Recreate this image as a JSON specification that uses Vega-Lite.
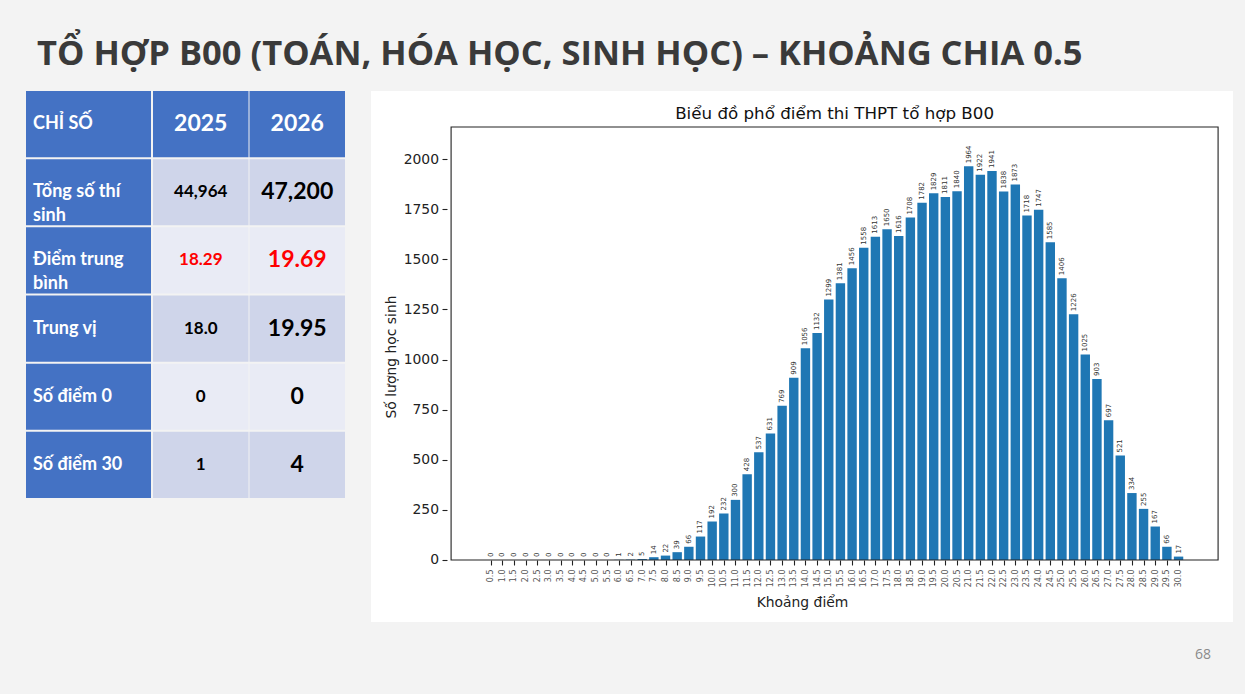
{
  "$schema": "https://vega.github.io/schema/vega-lite/v6.json",
  "background": "#f3f3f3",
  "padding": {"left": 26, "top": 37, "right": 12, "bottom": 33},
  "title": {
    "text": "TỔ HỢP B00 (TOÁN, HÓA HỌC, SINH HỌC) – KHOẢNG CHIA 0.5",
    "anchor": "start",
    "dx": 11,
    "font": "Open Sans",
    "fontSize": 34.5,
    "fontWeight": "bold",
    "color": "#3a3a3a",
    "offset": 18.5
  },
  "config": {"view": {"stroke": null}, "font": "DejaVu Sans", "axis": {"labelOverlap": false}},
  "datasets": {
    "table": [
      {"row": "CHỈ SỐ", "col": "CHỈ SỐ", "text": "CHỈ SỐ"},
      {"row": "CHỈ SỐ", "col": "2025", "text": "2025"},
      {"row": "CHỈ SỐ", "col": "2026", "text": "2026"},
      {"row": "Tổng số thí sinh", "col": "CHỈ SỐ", "text": "Tổng số thí\nsinh"},
      {"row": "Tổng số thí sinh", "col": "2025", "text": "44,964"},
      {"row": "Tổng số thí sinh", "col": "2026", "text": "47,200"},
      {"row": "Điểm trung bình", "col": "CHỈ SỐ", "text": "Điểm trung\nbình"},
      {"row": "Điểm trung bình", "col": "2025", "text": "18.29"},
      {"row": "Điểm trung bình", "col": "2026", "text": "19.69"},
      {"row": "Trung vị", "col": "CHỈ SỐ", "text": "Trung vị"},
      {"row": "Trung vị", "col": "2025", "text": "18.0"},
      {"row": "Trung vị", "col": "2026", "text": "19.95"},
      {"row": "Số điểm 0", "col": "CHỈ SỐ", "text": "Số điểm 0"},
      {"row": "Số điểm 0", "col": "2025", "text": "0"},
      {"row": "Số điểm 0", "col": "2026", "text": "0"},
      {"row": "Số điểm 30", "col": "CHỈ SỐ", "text": "Số điểm 30"},
      {"row": "Số điểm 30", "col": "2025", "text": "1"},
      {"row": "Số điểm 30", "col": "2026", "text": "4"}
    ],
    "scores": [
      {"score": 0.5, "count": 0}, {"score": 1.0, "count": 0}, {"score": 1.5, "count": 0},
      {"score": 2.0, "count": 0}, {"score": 2.5, "count": 0}, {"score": 3.0, "count": 0},
      {"score": 3.5, "count": 0}, {"score": 4.0, "count": 0}, {"score": 4.5, "count": 0},
      {"score": 5.0, "count": 0}, {"score": 5.5, "count": 0}, {"score": 6.0, "count": 1},
      {"score": 6.5, "count": 2}, {"score": 7.0, "count": 5}, {"score": 7.5, "count": 14},
      {"score": 8.0, "count": 22}, {"score": 8.5, "count": 39}, {"score": 9.0, "count": 66},
      {"score": 9.5, "count": 117}, {"score": 10.0, "count": 192}, {"score": 10.5, "count": 232},
      {"score": 11.0, "count": 300}, {"score": 11.5, "count": 428}, {"score": 12.0, "count": 537},
      {"score": 12.5, "count": 631}, {"score": 13.0, "count": 769}, {"score": 13.5, "count": 909},
      {"score": 14.0, "count": 1056}, {"score": 14.5, "count": 1132}, {"score": 15.0, "count": 1299},
      {"score": 15.5, "count": 1381}, {"score": 16.0, "count": 1456}, {"score": 16.5, "count": 1558},
      {"score": 17.0, "count": 1613}, {"score": 17.5, "count": 1650}, {"score": 18.0, "count": 1616},
      {"score": 18.5, "count": 1708}, {"score": 19.0, "count": 1782}, {"score": 19.5, "count": 1829},
      {"score": 20.0, "count": 1811}, {"score": 20.5, "count": 1840}, {"score": 21.0, "count": 1964},
      {"score": 21.5, "count": 1922}, {"score": 22.0, "count": 1941}, {"score": 22.5, "count": 1838},
      {"score": 23.0, "count": 1873}, {"score": 23.5, "count": 1718}, {"score": 24.0, "count": 1747},
      {"score": 24.5, "count": 1585}, {"score": 25.0, "count": 1406}, {"score": 25.5, "count": 1226},
      {"score": 26.0, "count": 1025}, {"score": 26.5, "count": 903}, {"score": 27.0, "count": 697},
      {"score": 27.5, "count": 521}, {"score": 28.0, "count": 334}, {"score": 28.5, "count": 255},
      {"score": 29.0, "count": 167}, {"score": 29.5, "count": 66}, {"score": 30.0, "count": 17}
    ]
  },
  "spacing": 26,
  "hconcat": [
    {
      "spacing": 2,
      "hconcat": [
        {
          "width": 125,
          "height": 407,
          "data": {"name": "table"},
          "transform": [{"filter": "datum.col == 'CHỈ SỐ'"}],
          "encoding": {
            "y": {"field": "row", "type": "nominal", "sort": null, "axis": null, "scale": {"paddingInner": 0.03, "paddingOuter": 0}},
            "x": {"field": "col", "type": "nominal", "axis": null, "scale": {"paddingInner": 0, "paddingOuter": 0}}
          },
          "layer": [
            {"mark": {"type": "rect", "fill": "#4472c4"}},
            {
              "mark": {"type": "text", "align": "left", "baseline": "middle", "dx": 7, "font": "Lato", "fontWeight": "bold", "fontSize": 18, "color": "white", "lineBreak": "\n", "lineHeight": 24},
              "encoding": {
                "x": {"field": "col", "type": "nominal", "bandPosition": 0, "axis": null},
                "text": {"field": "text"}
              }
            }
          ]
        },
        {
          "width": 192,
          "height": 407,
          "data": {"name": "table"},
          "transform": [{"filter": "datum.col != 'CHỈ SỐ'"}],
          "encoding": {
            "y": {"field": "row", "type": "nominal", "sort": null, "axis": null, "scale": {"paddingInner": 0.03, "paddingOuter": 0}},
            "x": {"field": "col", "type": "nominal", "sort": null, "axis": null, "scale": {"paddingInner": 0.01, "paddingOuter": 0}}
          },
          "layer": [
            {
              "mark": {"type": "rect"},
              "encoding": {
                "fill": {
                  "condition": [
                    {"test": "datum.row == 'CHỈ SỐ'", "value": "#4472c4"},
                    {"test": "datum.row == 'Điểm trung bình' || datum.row == 'Số điểm 0'", "value": "#e9ebf5"}
                  ],
                  "value": "#cfd5ea"
                }
              }
            },
            {
              "mark": {"type": "text", "align": "center", "baseline": "middle", "font": "Lato", "fontWeight": "bold"},
              "encoding": {
                "text": {"field": "text"},
                "color": {
                  "condition": [
                    {"test": "datum.row == 'CHỈ SỐ'", "value": "white"},
                    {"test": "datum.row == 'Điểm trung bình'", "value": "#ff0000"}
                  ],
                  "value": "black"
                },
                "size": {
                  "condition": {"test": "datum.col == '2026' || datum.row == 'CHỈ SỐ'", "value": 23},
                  "value": 17
                }
              }
            }
          ]
        }
      ]
    },
    {
      "width": 862,
      "height": 531,
      "view": {"fill": "white", "stroke": null},
      "layer": [
        {
          "data": {"name": "scores"},
          "mark": {"type": "bar", "width": 9.4, "color": "#1f77b4"},
          "encoding": {
            "x": {
              "field": "score", "type": "quantitative",
              "scale": {"domain": [-4.415, 32.12], "nice": false, "zero": false},
              "axis": {
                "values": [0.5, 1, 1.5, 2, 2.5, 3, 3.5, 4, 4.5, 5, 5.5, 6, 6.5, 7, 7.5, 8, 8.5, 9, 9.5, 10, 10.5, 11, 11.5, 12, 12.5, 13, 13.5, 14, 14.5, 15, 15.5, 16, 16.5, 17, 17.5, 18, 18.5, 19, 19.5, 20, 20.5, 21, 21.5, 22, 22.5, 23, 23.5, 24, 24.5, 25, 25.5, 26, 26.5, 27, 27.5, 28, 28.5, 29, 29.5, 30],
                "tickCount": 200,
                "format": ".1f",
                "labelAngle": 270,
                "labelFontSize": 8,
                "labelColor": "#555",
                "labelPadding": 4,
                "labelOverlap": false,
                "labelFlush": false,
                "tickSize": 5,
                "tickWidth": 1.1,
                "tickColor": "#222",
                "domain": false,
                "grid": false,
                "offset": -62,
                "title": "Khoảng điểm",
                "titleFontSize": 13.9,
                "titleFontWeight": "normal",
                "titleColor": "#222",
                "titlePadding": 9
              }
            },
            "y": {
              "field": "count", "type": "quantitative",
              "scale": {"domain": [-309.3, 2339.6], "nice": false, "zero": false},
              "axis": {
                "values": [0, 250, 500, 750, 1000, 1250, 1500, 1750, 2000],
                "tickCount": 50,
                "format": "d",
                "offset": -76,
                "domain": false,
                "grid": false,
                "tickSize": 5,
                "tickWidth": 1.1,
                "tickColor": "#222",
                "labelFontSize": 13.9,
                "labelColor": "#222",
                "labelPadding": 3.5,
                "title": "Số lượng học sinh",
                "titleFontSize": 13.9,
                "titleFontWeight": "normal",
                "titleColor": "#222",
                "titlePadding": 5
              }
            },
            "y2": {"datum": 0}
          }
        },
        {
          "data": {"name": "scores"},
          "mark": {"type": "text", "angle": 270, "align": "left", "baseline": "middle", "dx": 3, "fontSize": 7, "color": "#333"},
          "encoding": {
            "x": {"field": "score", "type": "quantitative"},
            "y": {"field": "count", "type": "quantitative"},
            "text": {"field": "count", "type": "quantitative", "format": "d"}
          }
        },
        {
          "data": {"values": [{}]},
          "mark": {"type": "rect", "fillOpacity": 0, "stroke": "#222", "strokeWidth": 1.1},
          "encoding": {
            "x": {"datum": -1.195, "type": "quantitative"},
            "x2": {"datum": 31.695},
            "y": {"datum": 0, "type": "quantitative"},
            "y2": {"datum": 2160}
          }
        },
        {
          "data": {"values": [{"t": "Biểu đồ phổ điểm thi THPT tổ hợp B00"}]},
          "mark": {"type": "text", "fontSize": 16.7, "color": "#111", "baseline": "alphabetic", "dy": -8},
          "encoding": {
            "x": {"datum": 15.25, "type": "quantitative"},
            "y": {"datum": 2160, "type": "quantitative"},
            "text": {"field": "t"}
          }
        },
        {
          "data": {"values": [{"t": "68"}]},
          "mark": {"type": "text", "fontSize": 14, "color": "#8a8a8a", "font": "Open Sans", "baseline": "middle"},
          "encoding": {
            "x": {"datum": 31.05, "type": "quantitative"},
            "y": {"datum": -474, "type": "quantitative"},
            "text": {"field": "t"}
          }
        }
      ]
    }
  ]
}
